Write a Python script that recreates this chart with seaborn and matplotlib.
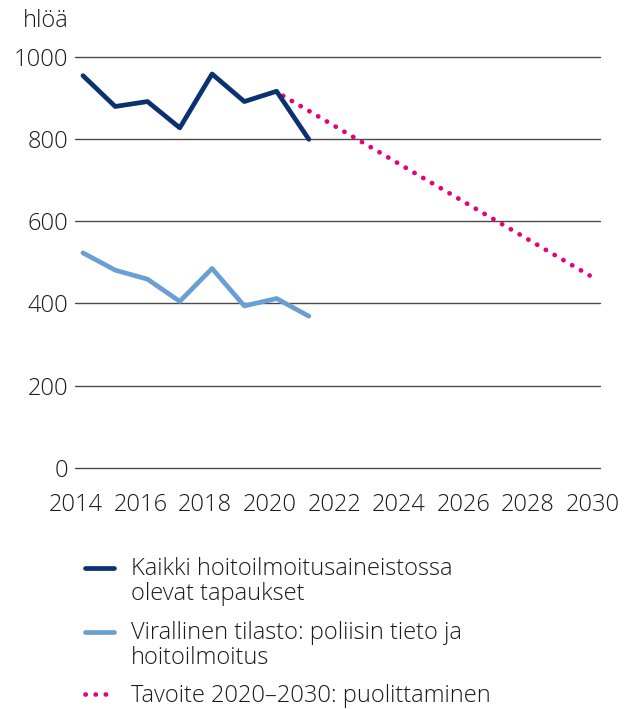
import pandas as pd
import seaborn as sns
import matplotlib.pyplot as plt
import matplotlib.transforms as mtransforms
from matplotlib.lines import Line2D

years = [2014, 2015, 2016, 2017, 2018, 2019, 2020, 2021]
kaikki = [954, 879, 891, 827, 958, 891, 916, 799]
virallinen = [523, 481, 459, 405, 485, 394, 412, 369]
tavoite_years = [2020.2, 2029.7]
tavoite = [905, 468]

labels = ["Kaikki hoitoilmoitusaineistossa\nolevat tapaukset",
          "Virallinen tilasto: poliisin tieto ja\nhoitoilmoitus",
          "Tavoite 2020–2030: puolittaminen"]
colors = ["#0a3170", "#6a9fd3", "#e5007e"]

sns.set_style("white")
plt.rcParams['font.family'] = ['Open Sans', 'DejaVu Sans']
plt.rcParams['font.weight'] = 'light'
txt = '#1a1a1a'
fs = 17

fig = plt.figure(figsize=(6.24, 7.09), dpi=100)
ax = fig.add_axes([0.120, 0.340, 0.842, 0.580])

df = pd.DataFrame({'year': years, 'kaikki': kaikki, 'virallinen': virallinen})
dt = pd.DataFrame({'year': tavoite_years, 'tavoite': tavoite})

for y in range(0, 1001, 200):
    ax.axhline(y, color='#4a4a4a', lw=1, zorder=0, clip_on=False)

dots = (0, (0.05, 2.1))
sns.lineplot(data=dt, x='year', y='tavoite', ax=ax, color=colors[2], lw=3.4, linestyle=dots)
sns.lineplot(data=df, x='year', y='kaikki', ax=ax, color=colors[0], lw=3.4)
sns.lineplot(data=df, x='year', y='virallinen', ax=ax, color=colors[1], lw=3.4)
for l in ax.get_lines():
    l.set_dash_capstyle('round')

ax.set_xlim(2013.75, 2030.03)
ax.set_ylim(0, 1000)
ax.set_xticks(range(2014, 2031, 2))
ax.set_yticks(range(0, 1001, 200))
ax.tick_params(axis='both', length=0, labelsize=fs, colors=txt)
ax.tick_params(axis='x', pad=18)
ax.tick_params(axis='y', pad=5)
ax.set_xlabel("")
ax.set_ylabel("")
for s in ax.spines.values():
    s.set_visible(False)

# year labels sit a little left of the data points, as in the original
shift = mtransforms.ScaledTranslation(-7 / 100, 0, fig.dpi_scale_trans)
for lab in ax.get_xticklabels():
    lab.set_transform(lab.get_transform() + shift)

fig.text(0.036, 0.970, "hlöä", fontsize=fs, ha='left', va='center', color=txt)

handles = [Line2D([], [], color=colors[0], lw=3.4),
           Line2D([], [], color=colors[1], lw=3.4),
           Line2D([], [], color=colors[2], lw=3.4, linestyle=dots, dash_capstyle='round')]
leg = fig.legend(handles, labels, loc='upper left', bbox_to_anchor=(0.136, 0.215),
                 frameon=False, fontsize=fs, handlelength=1.25, handletextpad=0.7,
                 labelspacing=0.6, borderaxespad=0, borderpad=0, labelcolor=txt)
for t in leg.get_texts():
    t.set_linespacing(1.1)
# put the handles of two-line entries next to the first line
for h, lab in zip(leg.get_lines(), labels):
    if "\n" in lab:
        h.set_ydata([y + 10.5 for y in h.get_ydata()])

fig.savefig("out.png", dpi=100)
